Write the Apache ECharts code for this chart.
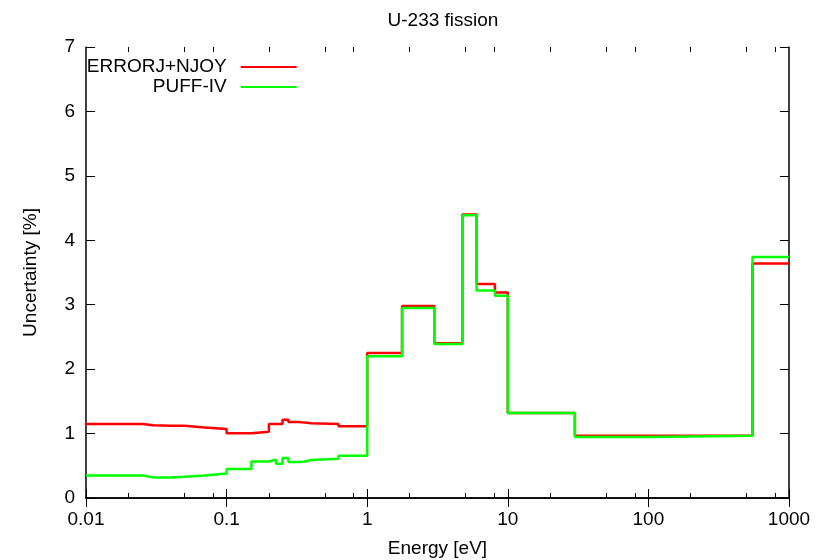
<!DOCTYPE html>
<html>
<head>
<meta charset="utf-8">
<script src="https://cdn.jsdelivr.net/npm/echarts@6/dist/echarts.min.js"></script>
<style>
html,body{margin:0;padding:0;background:#fff;}
#chart{width:818px;height:560px;}
</style>
</head>
<body>
<div id="chart"></div>
<script>
// Group boundaries (eV)
const energyEdges = [0.01, 0.0253, 0.03, 0.04, 0.05, 0.07, 0.1, 0.15, 0.2, 0.225, 0.25, 0.275, 0.325, 0.36, 0.4, 0.625, 1, 1.77, 3, 4.75, 6, 8.1, 10, 30, 100, 550, 1000];
// Uncertainty per group (%)
const errorjNjoy = [1.15, 1.13, 1.12, 1.12, 1.095, 1.07, 1.005, 1.03, 1.15, 1.15, 1.215, 1.18, 1.17, 1.16, 1.148, 1.115, 2.25, 2.98, 2.40, 4.40, 3.32, 3.19, 1.32, 0.965, 0.965, 3.64];
const puffIV = [0.35, 0.32, 0.32, 0.33, 0.35, 0.38, 0.45, 0.568, 0.594, 0.532, 0.62, 0.558, 0.568, 0.589, 0.61, 0.656, 2.20, 2.95, 2.39, 4.39, 3.22, 3.14, 1.32, 0.945, 0.965, 3.74];
const seriesNames = ['ERRORJ+NJOY', 'PUFF-IV'];
const xTicks = [0.01, 0.1, 1, 10, 100, 1000];
const xTickLabels = ['0.01', '0.1', '1', '10', '100', '1000'];
const xMinorTicks = [0.02, 0.05, 0.08, 0.2, 0.5, 0.8, 2, 5, 8, 20, 50, 80, 200, 500, 800];
const yTicks = [0, 1, 2, 3, 4, 5, 6, 7];

function stepData(vals) {
  const pts = vals.map((v, i) => [energyEdges[i], v]);
  pts.push([energyEdges[energyEdges.length - 1], vals[vals.length - 1]]);
  return pts;
}
function tickLabel(v) {
  const i = xTicks.findIndex(t => Math.abs(Math.log10(t) - Math.log10(v)) < 1e-6);
  return i >= 0 ? xTickLabels[i] : '';
}

const FONT = '"Liberation Sans", Arial, Helvetica, sans-serif';
const lineBlack = { color: '#000', width: 1.5 };
const tickBlack = { color: '#000', width: 1 };

function xAx(pos, major, withLabel) {
  const o = {
    type: 'log', logBase: 10, min: 0.01, max: 1000, position: pos,
    axisLine: { show: major, lineStyle: lineBlack },
    axisTick: { show: true, inside: true, length: major ? 9 : 5, lineStyle: tickBlack,
                customValues: major ? xTicks : xMinorTicks },
    axisLabel: { show: withLabel, color: '#000', fontSize: 19, fontFamily: FONT, margin: 12,
                 customValues: xTicks, formatter: tickLabel },
    splitLine: { show: false }
  };
  if (withLabel) {
    o.name = 'Energy [eV]';
    o.nameLocation = 'middle';
    o.nameGap = 41;
    o.nameTextStyle = { color: '#000', fontSize: 19, fontFamily: FONT };
  }
  return o;
}
function yAx(pos, withLabel) {
  const o = {
    type: 'value', min: 0, max: 7, interval: 1, position: pos,
    axisLine: { show: true, lineStyle: lineBlack },
    axisTick: { show: true, inside: true, length: 9, lineStyle: tickBlack },
    axisLabel: { show: withLabel, color: '#000', fontSize: 19, fontFamily: FONT, margin: 11,
                 formatter: v => String(yTicks[yTicks.indexOf(v)]) },
    splitLine: { show: false }
  };
  if (withLabel) {
    o.name = 'Uncertainty [%]';
    o.nameLocation = 'middle';
    o.nameGap = 46;
    o.nameTextStyle = { color: '#000', fontSize: 19, fontFamily: FONT };
  }
  return o;
}

const chart = echarts.init(document.getElementById('chart'), null, { renderer: 'canvas' });
chart.setOption({
  animation: false,
  backgroundColor: '#fff',
  textStyle: { fontFamily: FONT },
  title: {
    text: 'U-233 fission', left: 438, top: 6, textAlign: 'center',
    textStyle: { color: '#000', fontSize: 19, fontWeight: 'normal', fontFamily: FONT }
  },
  grid: { left: 86, right: 29, top: 47, bottom: 62, containLabel: false, outerBoundsMode: 'none' },
  legend: {
    orient: 'vertical', left: 82.7, top: 57, padding: 0, itemGap: 0,
    itemWidth: 56, itemHeight: 2, icon: 'rect', align: 'right',
    textStyle: { color: '#000', fontSize: 19, fontFamily: FONT, width: 144, align: 'right',
                 lineHeight: 20, padding: [0, 9, 0, 0] },
    data: seriesNames
  },
  xAxis: [xAx('bottom', true, true), xAx('top', true, false), xAx('bottom', false, false), xAx('top', false, false)],
  yAxis: [yAx('left', true), yAx('right', false)],
  series: [
    { name: seriesNames[0], type: 'line', step: 'end', symbol: 'none', xAxisIndex: 0, yAxisIndex: 0,
      lineStyle: { color: '#ff0000', width: 2.5 }, itemStyle: { color: '#ff0000' }, data: stepData(errorjNjoy) },
    { name: seriesNames[1], type: 'line', step: 'end', symbol: 'none', xAxisIndex: 0, yAxisIndex: 0,
      lineStyle: { color: '#00ff00', width: 2.5 }, itemStyle: { color: '#00ff00' }, data: stepData(puffIV) }
  ]
});
</script>
</body>
</html>
